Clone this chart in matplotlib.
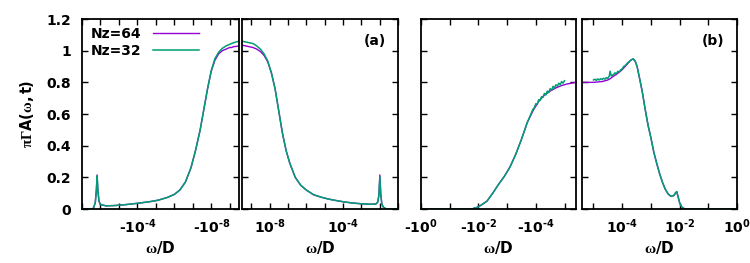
import numpy as np
import matplotlib
matplotlib.use("Agg")
from matplotlib import pyplot as plt
from matplotlib.ticker import FixedLocator, NullFormatter

plt.rcParams['font.family'] = ['DejaVu Sans']
plt.rcParams['font.weight'] = 'bold'
plt.rcParams['mathtext.fontset'] = 'custom'
plt.rcParams['mathtext.rm'] = 'Liberation Serif'
plt.rcParams['mathtext.it'] = 'Liberation Serif'
plt.rcParams['mathtext.bf'] = 'DejaVu Sans:bold'

# log10|omega/D| and pi*Gamma*A values
# panel (a), negative frequencies
a_neg_e = [-1.0, -1.5, -1.62, -1.72, -1.78, -1.82, -1.86, -1.92, -2.0, -2.3, -2.8,
           -3.4, -4.0, -4.6, -5.1, -5.6, -6.0, -6.3, -6.6, -6.9, -7.15, -7.4, -7.6,
           -7.8, -8.0, -8.2, -8.4, -8.6, -8.8, -8.9, -9.0, -9.1, -9.2, -9.35, -9.5]
a_neg_64 = [0.0, 0.0, 0.005, 0.04, 0.12, 0.215, 0.12, 0.05, 0.028, 0.02, 0.022,
            0.028, 0.036, 0.045, 0.055, 0.072, 0.092, 0.12, 0.17, 0.26, 0.37, 0.5, 0.63,
            0.76, 0.87, 0.94, 0.98, 1.0, 1.01, 1.015, 1.02, 1.02, 1.025, 1.027, 1.03]
a_neg_32 = [0.0, 0.0, 0.005, 0.04, 0.12, 0.21, 0.12, 0.05, 0.028, 0.02, 0.022,
            0.028, 0.036, 0.045, 0.055, 0.072, 0.092, 0.12, 0.17, 0.26, 0.37, 0.5, 0.63,
            0.76, 0.875, 0.95, 0.99, 1.015, 1.03, 1.035, 1.04, 1.045, 1.05, 1.055, 1.06]
# panel (a), positive frequencies
a_pos_e = [-9.5, -9.3, -9.1, -8.9, -8.7, -8.5, -8.3, -8.1, -7.9, -7.7, -7.5, -7.3,
           -7.1, -6.9, -6.6, -6.3, -6.0, -5.6, -5.2, -4.8, -4.4, -4.0, -3.5, -3.0,
           -2.5, -2.2, -2.1, -2.04, -1.99, -1.94, -1.88, -1.8, -1.7, -1.6, -1.3, -1.0]
a_pos_64 = [1.035, 1.03, 1.025, 1.02, 1.01, 0.995, 0.97, 0.93, 0.86, 0.76, 0.62, 0.48,
            0.37, 0.29, 0.2, 0.15, 0.12, 0.09, 0.075, 0.063, 0.054, 0.046, 0.038, 0.033,
            0.03, 0.032, 0.045, 0.09, 0.215, 0.09, 0.03, 0.012, 0.004, 0.0, 0.0, 0.0]
a_pos_32 = [1.06, 1.055, 1.05, 1.045, 1.03, 1.01, 0.98, 0.935, 0.86, 0.76, 0.62, 0.48,
            0.37, 0.29, 0.2, 0.15, 0.12, 0.09, 0.075, 0.063, 0.054, 0.046, 0.038, 0.033,
            0.03, 0.032, 0.045, 0.09, 0.205, 0.09, 0.03, 0.012, 0.004, 0.0, 0.0, 0.0]
# panel (b), negative frequencies
b_neg_e64 = [0.0, -0.5, -1.0, -1.5, -1.8, -1.95, -2.1, -2.3, -2.5, -2.7, -2.9, -3.1,
             -3.3, -3.5, -3.7, -3.9, -4.1, -4.3, -4.5, -4.7, -4.9, -5.1, -5.4]
b_neg_64 = [0.0, 0.0, 0.0, 0.0, 0.002, 0.01, 0.025, 0.05, 0.1, 0.155, 0.205, 0.265,
            0.345, 0.44, 0.545, 0.62, 0.68, 0.72, 0.745, 0.765, 0.78, 0.79, 0.8]
b_neg_e32 = [0.0, -0.5, -1.0, -1.5, -1.8, -1.95, -2.1, -2.3, -2.5, -2.7, -2.9, -3.1,
             -3.3, -3.5, -3.7, -3.9, -3.95, -4.0, -4.05, -4.1, -4.15, -4.2, -4.25,
             -4.3, -4.35, -4.4, -4.45, -4.5, -4.55, -4.6, -4.65, -4.7, -4.75, -4.8,
             -4.85, -4.9, -4.95, -5.0]
b_neg_32 = [0.0, 0.0, 0.0, 0.0, 0.002, 0.01, 0.025, 0.05, 0.1, 0.155, 0.205, 0.265,
            0.345, 0.44, 0.545, 0.63, 0.64, 0.665, 0.66, 0.69, 0.685, 0.71, 0.705,
            0.73, 0.72, 0.745, 0.735, 0.76, 0.75, 0.775, 0.765, 0.785, 0.775, 0.795,
            0.785, 0.805, 0.795, 0.81]
# panel (b), positive frequencies
b_pos_e64 = [-5.4, -5.0, -4.7, -4.5, -4.4, -4.3, -4.2, -4.1, -4.0, -3.9, -3.8, -3.7,
             -3.62, -3.55, -3.48, -3.4, -3.3, -3.2, -3.1, -3.0, -2.9, -2.8, -2.7, -2.6,
             -2.5, -2.4, -2.3, -2.2, -2.15, -2.1, -2.05, -2.0, -1.95, -1.9, -1.8, -1.5,
             -1.0, 0.0]
b_pos_64 = [0.8, 0.8, 0.805, 0.815, 0.825, 0.84, 0.85, 0.865, 0.88, 0.9, 0.92, 0.94,
            0.948, 0.935, 0.9, 0.83, 0.74, 0.63, 0.53, 0.45, 0.36, 0.29, 0.225, 0.17,
            0.125, 0.095, 0.08, 0.085, 0.1, 0.11, 0.075, 0.04, 0.02, 0.008, 0.0, 0.0,
            0.0, 0.0]
b_pos_e32 = [-5.0, -4.95, -4.9, -4.85, -4.8, -4.75, -4.7, -4.65, -4.6, -4.55, -4.5,
             -4.45, -4.42, -4.38, -4.3, -4.25, -4.2, -4.15, -4.1, -4.05, -4.0, -3.95,
             -3.9, -3.85, -3.8, -3.7, -3.62, -3.55, -3.48, -3.4, -3.3, -3.2, -3.1, -3.0,
             -2.9, -2.8, -2.7, -2.6, -2.5, -2.4, -2.3, -2.2, -2.15, -2.1, -2.05, -2.0,
             -1.95, -1.9, -1.8, -1.5, -1.0, 0.0]
b_pos_32 = [0.815, 0.82, 0.812, 0.822, 0.815, 0.823, 0.818, 0.826, 0.82, 0.83, 0.825,
            0.84, 0.87, 0.84, 0.85, 0.86, 0.855, 0.87, 0.865, 0.88, 0.885, 0.9, 0.905,
            0.915, 0.925, 0.94, 0.948, 0.935, 0.9, 0.83, 0.74, 0.63, 0.53, 0.45, 0.36,
            0.29, 0.225, 0.17, 0.125, 0.095, 0.08, 0.085, 0.1, 0.11, 0.075, 0.04, 0.02,
            0.008, 0.0, 0.0, 0.0, 0.0]

c64 = '#9400d3'
c32 = '#009e73'
HY = '\u2010'  # short hyphen, as in the gnuplot labels

fig = plt.figure(figsize=(7.5, 2.63), dpi=100)
bot, hgt = 0.2053, 0.7224
ax1 = fig.add_axes([0.1093, bot, 0.2093, hgt])
ax2 = fig.add_axes([0.3227, bot, 0.2080, hgt])
ax3 = fig.add_axes([0.5613, bot, 0.2067, hgt])
ax4 = fig.add_axes([0.7760, bot, 0.2067, hgt])

def series(ax, e64, y64, e32, y32, lab=False):
    ax.plot(10.0 ** np.array(e64), y64, color=c64, lw=1.0, label='Nz=64' if lab else None)
    ax.plot(10.0 ** np.array(e32), y32, color=c32, lw=1.1, label='Nz=32' if lab else None)

series(ax1, a_neg_e, a_neg_64, a_neg_e, a_neg_32, lab=True)
series(ax2, a_pos_e, a_pos_64, a_pos_e, a_pos_32)
series(ax3, b_neg_e64, b_neg_64, b_neg_e32, b_neg_32)
series(ax4, b_pos_e64, b_pos_64, b_pos_e32, b_pos_32)

def ticklab(e, neg):
    sign = HY if neg else ''
    return '$\\mathbf{%s10^{%s}}$' % (sign, str(e).replace('-', HY))

def style(ax, lim, major, minor, neg):
    ax.set_xscale('log')
    ax.set_xlim(*lim)
    ax.set_ylim(0, 1.2)
    ax.xaxis.set_major_locator(FixedLocator([10.0 ** e for e in major]))
    ax.set_xticklabels([ticklab(e, neg) for e in major])
    ax.xaxis.set_minor_locator(FixedLocator([10.0 ** e for e in minor]))
    ax.xaxis.set_minor_formatter(NullFormatter())
    ax.set_yticks([0, 0.2, 0.4, 0.6, 0.8, 1.0, 1.2])
    ax.tick_params(which='both', direction='in', top=True, right=True,
                   length=4, width=1.0, labelsize=10)
    ax.tick_params(axis='y', pad=8)
    ax.tick_params(axis='x', pad=6)
    for s in ax.spines.values():
        s.set_linewidth(1.3)
    ax.set_xlabel(r'$\omega\mathbf{/D}$', fontsize=11, labelpad=2)

style(ax1, (1e-1, 10 ** -9.5), [-4, -8], [-1, -2, -3, -5, -6, -7, -9], True)
style(ax2, (10 ** -9.5, 1e-1), [-8, -4], [-9, -7, -6, -5, -3, -2, -1], False)
style(ax3, (1.0, 10 ** -5.4), [0, -2, -4], [-1, -3, -5], True)
style(ax4, (10 ** -5.4, 1.0), [-4, -2, 0], [-5, -3, -1], False)

ax1.set_yticklabels(['0', '0.2', '0.4', '0.6', '0.8', '1', '1.2'])
for ax in (ax2, ax3, ax4):
    ax.set_yticklabels([])
ax1.set_ylabel(r'$\pi\Gamma\mathbf{A(}\omega\mathbf{,t)}$', fontsize=10.5, labelpad=7)

ax2.text(0.92, 0.92, '(a)', transform=ax2.transAxes, ha='right', va='top',
         fontsize=10, fontweight='bold')
ax4.text(0.92, 0.92, '(b)', transform=ax4.transAxes, ha='right', va='top',
         fontsize=10, fontweight='bold')

ax1.legend(loc='upper left', frameon=False, markerfirst=False, handlelength=3.3,
           prop={'weight': 'bold', 'size': 10}, borderaxespad=0.2,
           labelspacing=0.2, handletextpad=0.9)

fig.savefig('out.png', dpi=100)
